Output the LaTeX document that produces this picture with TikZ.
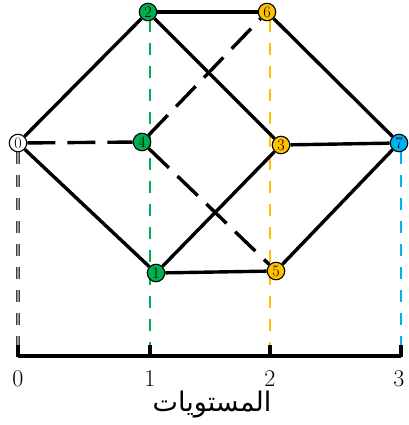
\documentclass[tikz,border=0pt]{standalone}
\usepackage{fontspec}
\usetikzlibrary{backgrounds}
\newfontfamily\arabicfont[Script=Arabic]{DejaVu Sans}
\TeXXeTstate=1
\definecolor{vgreen}{HTML}{00B050}
\definecolor{vyellow}{HTML}{FFC000}
\definecolor{vblue}{HTML}{00B0F0}
\begin{document}
\begin{tikzpicture}[x=1pt,y=-1pt,
  vtx/.style={circle,draw=black,line width=1.1pt,inner sep=0pt,minimum size=17.5pt,font=\fontsize{16}{16}\selectfont},
  edge/.style={line width=3.4pt,black},
  hidden/.style={line width=3.4pt,black,dash pattern=on 28pt off 12pt},
  level/.style={line width=2.6pt,dash pattern=on 12pt off 11pt},
  lbl/.style={font=\fontsize{24}{24}\selectfont,inner sep=0pt}]
\useasboundingbox (0,0) rectangle (408,425);
% ends of the level guides on the axis
\coordinate (g0) at (18,346);
\coordinate (g1) at (150,346);
\coordinate (g2) at (270,346);
\coordinate (g3) at (401,346);
% vertices
\node[vtx,fill=white]   (v0) at (18,143) {0};
\node[vtx,fill=vgreen]  (v2) at (148,12) {2};
\node[vtx,fill=vyellow] (v6) at (267,12) {6};
\node[vtx,fill=vgreen]  (v4) at (142,142) {4};
\node[vtx,fill=vyellow] (v3) at (281,145) {3};
\node[vtx,fill=vblue]   (v7) at (399,143) {7};
\node[vtx,fill=vgreen]  (v1) at (156,273) {1};
\node[vtx,fill=vyellow] (v5) at (276,271) {5};
\begin{pgfonlayer}{background}
% level guide lines
\draw[level,draw=black!75,double=black!40,double distance=1.6pt,line width=0.8pt] (v0) -- (g0);
\draw[level,vgreen] (150,20) -- (g1);
\draw[level,vyellow] (270,20) -- (g2);
\draw[level,vblue] (401,152) -- (g3);
% edges
\draw[edge] (v0) -- (v2);
\draw[edge] (v0) -- (v1);
\draw[hidden] (v0) -- (v4);
\draw[edge] (v2) -- (v6);
\draw[edge] (v2) -- (v3);
\draw[hidden] (v4) -- (v6);
\draw[hidden] (v4) -- (v5);
\draw[edge] (v1) -- (v3);
\draw[edge] (v1) -- (v5);
\draw[edge] (v6) -- (v7);
\draw[edge] (v3) -- (v7);
\draw[edge] (v5) -- (v7);
\end{pgfonlayer}
% axis
\coordinate (a0) at (18,356);
\coordinate (a3) at (401,356);
\draw[line width=4.2pt] (a0) -- (a3);
\foreach \x in {18,150,270,401}
  \draw[line width=4.2pt] (\x,357) -- (\x,345);
\node[lbl] (t0) at (18,379) {0};
\node[lbl] (t1) at (150,379) {1};
\node[lbl] (t2) at (270,379) {2};
\node[lbl] (t3) at (399,379) {3};
\node[font=\arabicfont\fontsize{27}{27}\selectfont,inner sep=0pt] (title) at (212,405) {\beginR المستويات\endR};
\end{tikzpicture}
\end{document}
